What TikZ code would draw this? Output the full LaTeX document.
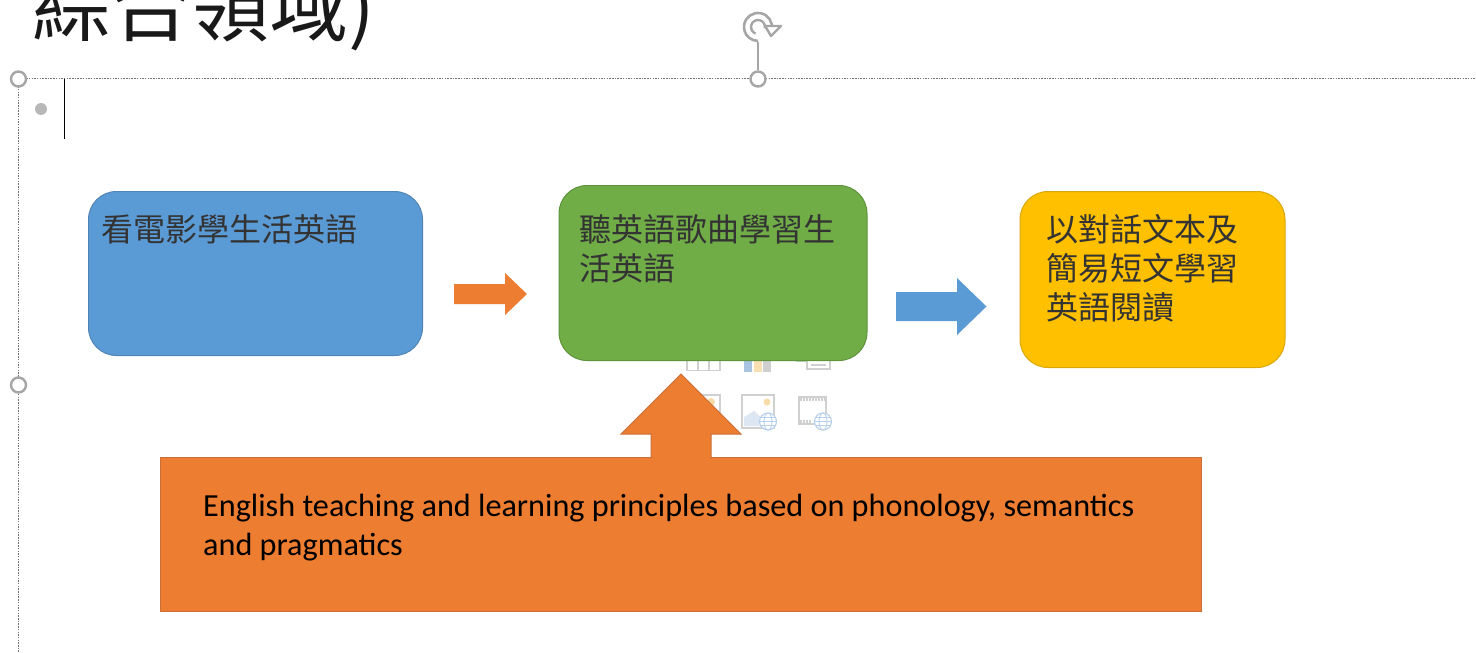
\documentclass[tikz,border=0pt]{standalone}
\usepackage{fontspec}
\setmainfont{Carlito}
\newfontfamily\cjk{Noto Sans CJK TC}
\definecolor{blueF}{HTML}{5B9BD5}
\definecolor{blueE}{HTML}{4F84B5}
\definecolor{greenF}{HTML}{70AD47}
\definecolor{greenE}{HTML}{5F933C}
\definecolor{goldF}{HTML}{FFC000}
\definecolor{goldE}{HTML}{D9A80E}
\definecolor{orangeF}{HTML}{ED7D31}
\definecolor{orangeE}{HTML}{C9703A}
\definecolor{handle}{HTML}{A6A6A6}
\definecolor{icon}{HTML}{D0D0D0}
\definecolor{globe}{HTML}{B8D0EA}
\definecolor{iconblue}{HTML}{A9C4E2}
\definecolor{iconsand}{HTML}{F8E0B0}
\definecolor{iconsun}{HTML}{F8DCA8}
\definecolor{iconhill}{HTML}{DDE6F3}
\definecolor{icongreen}{HTML}{BBD6B8}
\tikzset{
  x=1pt,y=-1pt,
  card/.style={draw=#1,line width=1pt,rounded corners=28pt,inner sep=0pt,anchor=north west},
  cardtext/.style={anchor=north west,inner sep=0pt,align=left,font=\cjk\fontsize{32}{39}\selectfont,text=black!80},
  blockarrow/.style={fill=#1,draw=none},
  guide/.style={draw=black!55,line width=0.7pt,dash pattern=on 1.5pt off 1.2pt},
  handlering/.style={circle,draw=handle,fill=white,line width=2.4pt,minimum size=15pt,inner sep=0pt},
  iconline/.style={draw=icon,line width=1.2pt},
}
\begin{document}
\begin{tikzpicture}
\useasboundingbox (0,0) rectangle (1476,653);
\fill[white] (0,0) rectangle (1476,653);
% title, cut by the top edge
\begin{scope}
\clip (0,0) rectangle (1476,653);
\node[anchor=base west,inner sep=0pt,font=\cjk\fontsize{79}{79}\selectfont,text=black!90] (title) at (32,35) {綜合領域)};
\end{scope}
% placeholder frame
\coordinate (tl) at (18,78);
\coordinate (tr) at (1476,78);
\coordinate (bl) at (18,653);
\draw[guide] (tl) -- (tr);
\draw[guide] (tl) -- (bl);
\node[handlering] (h1) at (18.5,79) {};
\node[handlering] (h2) at (18.5,385) {};
\node[handlering] (h3) at (758,79) {};
% rotation handle
\coordinate (rot) at (758,42);
\draw[handle,line width=1.2pt] (h3) -- (rot);
\draw[handle,line width=2.6pt] (771.8,29.4) arc (10:-270:14);
\draw[handle,line width=2.4pt] (764.9,28.2) arc (10:-250:7);
\draw[handle,line width=2.4pt,fill=white,line join=round] (765,26) -- (781,26) -- (771,36) -- cycle;
% bullet and caret
\fill[black!28] (41,109) circle (6);
\draw[black,line width=1pt] (64.5,79) -- (64.5,139);
% placeholder icons
\draw[iconline] (687,350) rectangle (720,370.5);
\draw[iconline] (687,360) -- (720,360) (698,350) -- (698,370.5) (709,350) -- (709,370.5);
\fill[iconblue] (744,350) rectangle (752,372);
\fill[iconsand] (754,350) rectangle (762,372);
\fill[icon] (763,350) rectangle (771,372);
\fill[icongreen] (796,350) rectangle (806,362);
\draw[iconline] (807,350) -- (807,369) -- (830,369) -- (830,350);
\draw[iconline] (811,360) -- (826,360) (811,365) -- (826,365);
\draw[iconline] (689,395) rectangle (720,428);
\fill[iconsun] (711,402) circle (4);
\draw[iconline] (742,395) rectangle (774,428);
\fill[iconsun] (767,402) circle (3.5);
\fill[iconhill] (744,426) -- (744,417) -- (754,411) -- (762,418) -- (762,426) -- cycle;
\draw[iconline] (799,397) rectangle (826,424);
\fill[white] (800,402) rectangle (825,419);
\draw[icon,line width=3pt,dash pattern=on 2pt off 1pt] (800,399.5) -- (826,399.5) (800,421.5) -- (812,421.5);
\foreach \gx/\gy in {712/421.5,768/421.5,823/421.5}{
  \fill[white] (\gx,\gy) circle (9);
  \draw[globe,line width=1.1pt] (\gx,\gy) circle (8.5);
  \draw[globe,line width=0.9pt] (\gx,\gy) ellipse (4 and 8.5);
  \draw[globe,line width=0.9pt] (\gx-8.5,\gy) -- (\gx+8.5,\gy) (\gx-7.5,\gy-4) -- (\gx+7.5,\gy-4) (\gx-7.5,\gy+4) -- (\gx+7.5,\gy+4);
}
% cards
\node[card=blueE,fill=blueF,minimum width=334pt,minimum height=164pt] (c1) at (88,191) {};
\node[card=greenE,fill=greenF,minimum width=308pt,minimum height=175pt] (c2) at (558.5,185) {};
\node[card=goldE,fill=goldF,minimum width=265pt,minimum height=176pt] (c3) at (1019.5,191) {};
\node[cardtext] (t1) at (101,214) {看電影學生活英語};
\node[cardtext] (t2) at (579,214) {聽英語歌曲學習生\\活英語};
\node[cardtext] (t3) at (1046.5,214) {以對話文本及\\簡易短文學習\\英語閱讀};
% block arrows
\path[blockarrow=orangeF] (454,284) -- (505,284) -- (505,273) -- (527,294) -- (505,315) -- (505,304) -- (454,304) -- cycle;
\path[blockarrow=blueF] (896,292) -- (957,292) -- (957,278) -- (986.5,306.5) -- (957,335) -- (957,321) -- (896,321) -- cycle;
% bottom box with up arrow, joined without a seam
\node[draw=orangeE,fill=orangeF,line width=1pt,anchor=north west,minimum width=1041pt,minimum height=154pt,inner sep=0pt] (base) at (160,457) {};
\path[fill=orangeF,draw=orangeE,line width=1pt,line join=miter] (651,458.5) -- (651,434) -- (621,434) -- (681,374) -- (741,434) -- (711,434) -- (711,458.5);
\node[anchor=north west,inner sep=0pt,align=left,text=black,font=\fontsize{32.2}{39}\selectfont] (baset) at (203,494) {English teaching and learning principles based on phonology, semantics\\and pragmatics};
\end{tikzpicture}
\end{document}
